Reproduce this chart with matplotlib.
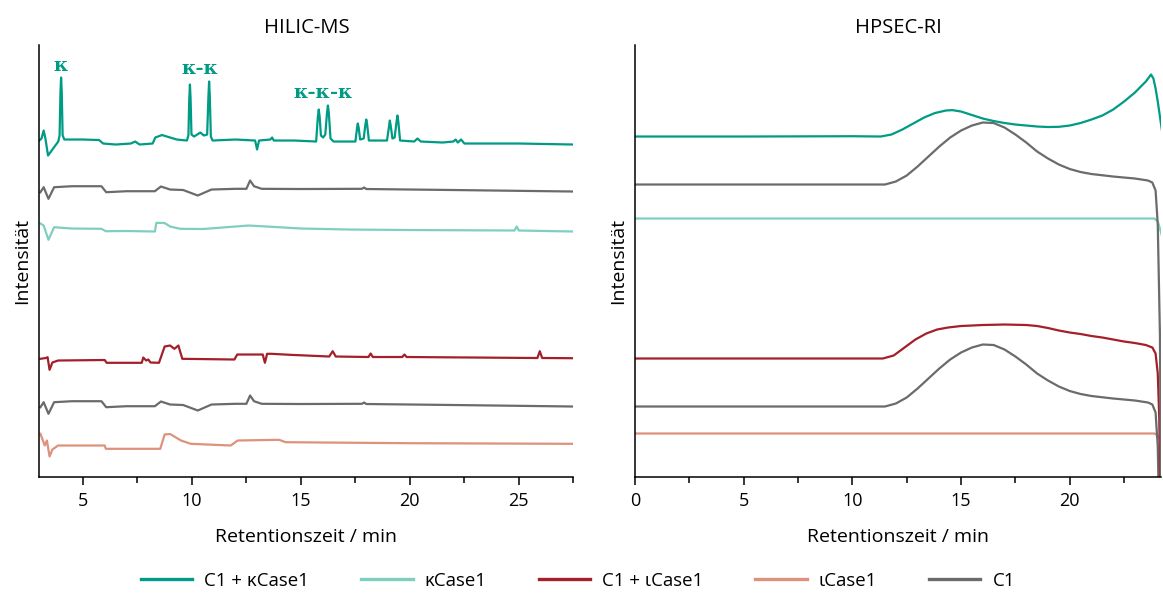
import matplotlib
matplotlib.use("Agg")
import matplotlib.pyplot as plt
from matplotlib.lines import Line2D
from matplotlib.ticker import MultipleLocator

plt.rcParams["font.family"] = ["Open Sans", "DejaVu Sans"]
plt.rcParams["font.size"] = 13

# ---------------------------------------------------------------------------
# Colours / labels
# ---------------------------------------------------------------------------
C_KMIX = "#009B84"   # C1 + kCase1
C_K = "#7FCFC0"      # kCase1
C_IMIX = "#A41F2A"   # C1 + iCase1
C_I = "#DE917B"      # iCase1
C_C1 = "#6B6B6B"     # C1

LABELS = ["C1 + κCase1", "κCase1", "C1 + ιCase1", "ιCase1", "C1"]
COLORS = [C_KMIX, C_K, C_IMIX, C_I, C_C1]

# ---------------------------------------------------------------------------
# HILIC-MS traces: retention time [min], signal relative to own baseline
# ---------------------------------------------------------------------------
hilic_kmix_t = [3.0, 3.1, 3.2, 3.28, 3.4, 3.6, 3.87, 3.93, 3.97, 4.0, 4.03, 4.07, 4.15,
                5.0, 5.74, 5.93, 6.5, 7.2, 7.4, 7.6, 8.2, 8.32, 8.63, 9.0, 9.31, 9.77,
                9.84, 9.88, 9.91, 9.94, 9.98, 10.1, 10.39, 10.55, 10.7, 10.76, 10.79,
                10.82, 10.87, 10.95, 12.0, 12.9, 12.99, 13.08, 13.6, 13.68, 13.76,
                14.7, 15.7, 15.78, 15.82, 15.86, 15.92, 16.02, 16.12, 16.2, 16.24,
                16.28, 16.36, 16.5, 17.5, 17.58, 17.61, 17.65, 17.72, 17.88, 17.96,
                18.0, 18.04, 18.12, 18.95, 19.05, 19.08, 19.12, 19.2, 19.3, 19.39,
                19.43, 19.47, 19.55, 20.2, 20.35, 20.5, 21.5, 22.0, 22.1, 22.2,
                22.35, 22.5, 24.0, 25.0, 27.5]
hilic_kmix_y = [0, 2, 10, 2, -15, -9, -1, 5, 48, 63, 48, 5, 1,
                1, 0.5, -3, -4, -3, -1, -4, -3, 3, 5.5, 3, 1, 0,
                5, 42, 56, 42, 6, 4, 8, 5, 6, 45, 59,
                45, 4, 0, 1, 0, -9, 0, 1, 3, 0,
                0, -1, 24, 31, 24, 5, 3, 6, 28, 35,
                28, 2, -1, -1, 13, 17, 13, 1, 2, 16,
                21, 16, 0, 0, 15, 20, 15, 2, 3, 19,
                25, 19, 0, -1, 2, -1, -2, -1, 1, -2,
                1, -3, -3, -3, -4]

hilic_k_t = [3.05, 3.2, 3.42, 3.68, 4.5, 5.85, 6.05, 7.0, 8.3, 8.37, 8.75, 9.0, 9.47,
             10.5, 12.6, 14.0, 15.0, 17.2, 20.0, 24.8, 24.9, 25.0, 27.5]
hilic_k_y = [4, 2, -12.3, 0.3, -1, -1.3, -3.7, -3.5, -4, 4.7, 4.5, 1, -1.3,
             -1.5, 2, 0.3, -1, -2, -2.5, -3, 1, -3, -4]

hilic_imix_t = [3.05, 3.3, 3.38, 3.47, 3.6, 3.86, 6.0, 6.09, 7.7, 7.77, 7.9, 8.0, 8.1,
                8.49, 8.75, 9.0, 9.2, 9.38, 9.56, 11.95, 12.08, 13.25, 13.35, 13.45,
                13.65, 14.5, 16.3, 16.46, 16.6, 18.1, 18.2, 18.3, 19.65, 19.75,
                19.85, 25.85, 25.96, 26.07, 27.5]
hilic_imix_y = [0.7, 1.5, 2.3, -10.3, -3, -1, -0.5, -3.3, -3.3, 2, -1, 0, -3,
                -3.3, 13, 14, 10.7, 14, 0.7, 0, 5, 5, -3.3, 5.7,
                5.7, 4.7, 3, 8.3, 3, 2.5, 6, 2.5, 2.5, 5,
                2.5, 1.5, 8.3, 1.5, 1.3]

hilic_i_t = [3.05, 3.25, 3.35, 3.47, 3.6, 3.86, 6.0, 6.05, 8.55, 8.75, 9.0, 9.5, 9.95,
             11.78, 12.1, 14.0, 14.3, 20.0, 27.5]
hilic_i_y = [11.7, 0, 5, -11, -4, 0, 0, -3.3, -3.3, 11, 11.5, 5, 1.7,
             0, 5, 5.7, 3.3, 2.3, 1.7]

hilic_c1_t = [3.05, 3.2, 3.42, 3.68, 4.5, 5.85, 6.07, 7.0, 8.3, 8.58, 9.0, 9.6, 10.27,
              10.9, 12.0, 12.5, 12.67, 12.85, 13.2, 15.0, 17.8, 17.9, 18.0, 22.0, 27.5]
hilic_c1_y = [-5.7, -0.7, -12.3, -0.7, 0.3, 0.3, -5.7, -4.7, -4.7, 0, -3, -3.5, -9,
              -3, -2.3, -2.3, 6, 0.3, -2.3, -2.5, -2.3, -1, -2.5, -3.5, -5]

# ---------------------------------------------------------------------------
# HPSEC-RI traces
# ---------------------------------------------------------------------------
sec_kmix_t = [0, 5, 10, 11.3, 11.8, 12.3, 12.8, 13.3, 13.8, 14.3, 14.6, 15.0, 15.5,
              16.0, 16.5, 17.0, 17.5, 18.0, 18.5, 19.0, 19.5, 20.0, 20.5, 21.0,
              21.5, 22.0, 22.5, 23.0, 23.5, 23.74, 23.85, 23.95, 24.05, 24.15, 24.25]
sec_kmix_y = [0, 0, 0.3, 0, 2, 7, 13, 19, 23.5, 26, 26.4, 25, 21.5,
              18, 15.5, 13.5, 12, 11, 10, 9.5, 9.7, 11, 13.5, 17,
              21, 27, 35, 44, 55, 62, 58, 48, 35, 20, 5]

sec_k_t = [0, 23.9, 24.05, 24.15, 24.25]
sec_k_y = [0, 0, -3, -10, -18]

sec_imix_t = [0, 11.4, 11.9, 12.4, 12.9, 13.4, 13.9, 14.4, 15.0, 16.0, 17.0, 18.0,
              18.5, 19.0, 19.5, 20.0, 20.5, 21.0, 21.5, 22.0, 22.5, 23.0, 23.5,
              23.8, 23.95, 24.05, 24.12, 24.2, 24.3]
sec_imix_y = [0, 0, 3, 11, 19, 25, 29, 31, 32.5, 33.5, 34, 33.5,
              32.5, 30.5, 28, 26, 24.5, 22.5, 21, 19, 17, 15.5, 13.5,
              11, 5, -15, -60, -200, -500]

sec_i_t = [0, 23.9, 24.05, 24.15, 24.25]
sec_i_y = [0, 0, -2, -6, -12]

sec_c1_t = [0, 11.5, 12.0, 12.5, 13.0, 13.5, 14.0, 14.5, 15.0, 15.5, 16.0, 16.5,
            17.0, 17.5, 18.0, 18.5, 19.0, 19.5, 20.0, 20.5, 21.0, 22.0, 23.0,
            23.6, 23.8, 23.95, 24.05, 24.15, 24.25]
sec_c1_y = [0, 0, 3, 9, 18, 28, 38, 47, 54, 59, 62, 61.5,
            57, 50, 42, 33, 26, 20, 15.5, 12.5, 10.5, 8, 6,
            4, 2, -6, -40, -150, -500]

# vertical stacking offsets of each trace (same units as the signals)
HILIC_OFFSETS = {"kmix": 336, "c1_top": 290, "k": 249, "imix": 117, "c1_bot": 75, "i": 31}
SEC_OFFSETS = {"kmix": 340, "c1_top": 292, "k": 258, "imix": 118, "c1_bot": 70, "i": 43}


def shifted(values, offset):
    return [v + offset for v in values]


fig = plt.figure(figsize=(11.63, 5.94), dpi=100)
ax_ms = fig.add_axes([0.0338, 0.1978, 0.4592, 0.7264])
ax_ri = fig.add_axes([0.546, 0.1978, 0.4523, 0.7264])

LW = 1.6

# --- HILIC-MS ---------------------------------------------------------------
o = HILIC_OFFSETS
ax_ms.plot(hilic_i_t, shifted(hilic_i_y, o["i"]), color=C_I, lw=LW)
ax_ms.plot(hilic_c1_t, shifted(hilic_c1_y, o["c1_bot"]), color=C_C1, lw=LW)
ax_ms.plot(hilic_imix_t, shifted(hilic_imix_y, o["imix"]), color=C_IMIX, lw=LW)
ax_ms.plot(hilic_k_t, shifted(hilic_k_y, o["k"]), color=C_K, lw=LW)
ax_ms.plot(hilic_c1_t, shifted(hilic_c1_y, o["c1_top"]), color=C_C1, lw=LW)
ax_ms.plot(hilic_kmix_t, shifted(hilic_kmix_y, o["kmix"]), color=C_KMIX, lw=LW)

for txt, t, y in [("κ", 4.0, 411), ("κ-κ", 10.35, 408), ("κ-κ-κ", 16.0, 384)]:
    ax_ms.text(t, y, txt, color=C_KMIX, ha="center", va="center",
               fontsize=14, fontweight="bold", family="DejaVu Serif")

ax_ms.set_xlim(3, 27.5)
ax_ms.set_title("HILIC-MS", pad=9, fontsize=14.6)

# --- HPSEC-RI ---------------------------------------------------------------
o = SEC_OFFSETS
ax_ri.plot(sec_i_t, shifted(sec_i_y, o["i"]), color=C_I, lw=LW)
ax_ri.plot(sec_c1_t, shifted(sec_c1_y, o["c1_bot"]), color=C_C1, lw=LW)
ax_ri.plot(sec_imix_t, shifted(sec_imix_y, o["imix"]), color=C_IMIX, lw=LW)
ax_ri.plot(sec_k_t, shifted(sec_k_y, o["k"]), color=C_K, lw=LW)
ax_ri.plot(sec_c1_t, shifted(sec_c1_y, o["c1_top"]), color=C_C1, lw=LW)
ax_ri.plot(sec_kmix_t, shifted(sec_kmix_y, o["kmix"]), color=C_KMIX, lw=LW)

ax_ri.set_xlim(0, 24.2)
ax_ri.set_title("HPSEC-RI", pad=9, fontsize=14.6)

for ax in (ax_ms, ax_ri):
    ax.set_ylim(0, 431.5)
    ax.set_yticks([])
    ax.set_ylabel("Intensität", labelpad=6, fontsize=14)
    ax.set_xlabel("Retentionszeit / min", labelpad=13, fontsize=14)
    ax.xaxis.set_major_locator(MultipleLocator(5))
    ax.xaxis.set_minor_locator(MultipleLocator(2.5))
    ax.tick_params(axis="x", which="major", length=6, width=1.1, direction="out",
                   pad=5, labelsize=13)
    ax.tick_params(axis="x", which="minor", length=4, width=1.1, direction="out")
    for side in ("top", "right"):
        ax.spines[side].set_visible(False)
    for side in ("left", "bottom"):
        ax.spines[side].set_linewidth(1.1)

handles = [Line2D([], [], color=c, lw=2.4) for c in COLORS]
fig.legend(handles, LABELS, loc="center", bbox_to_anchor=(0.497, 0.022), ncol=5,
           frameon=False, fontsize=13.4, handlelength=2.75, handletextpad=0.65,
           columnspacing=2.8)

fig.savefig("out.png", dpi=100)
